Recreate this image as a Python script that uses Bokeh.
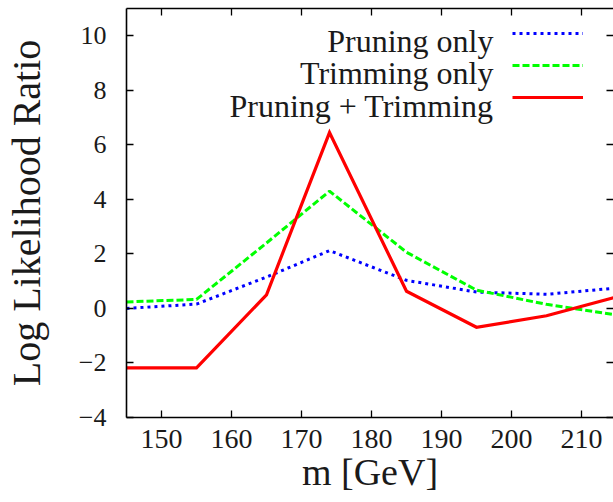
from bokeh.plotting import figure
from bokeh.models import (Range1d, FixedTicker, LinearAxis, Legend, LegendItem, Label,
                          CustomLabelingPolicy)
from bokeh.embed import file_html
from bokeh.resources import INLINE

# ---- data ----
mass = [145, 155, 165, 174, 185, 195, 205, 215]
pruning_only = [0.00, 0.16, 1.15, 2.12, 1.03, 0.60, 0.52, 0.75]
trimming_only = [0.24, 0.33, 2.40, 4.30, 2.06, 0.67, 0.15, -0.24]
pruning_trimming = [-2.18, -2.18, 0.50, 6.45, 0.63, -0.69, -0.27, 0.42]

x_ticks = [150, 160, 170, 180, 190, 200, 210]
y_ticks = [-4, -2, 0, 2, 4, 6, 8, 10]
series_names = ["Pruning only", "Trimming only", "Pruning + Trimming"]
x_label = "m [GeV]"
y_label = "Log Likelihood Ratio"

# ---- layout ----
W, H = 613, 502
FL, FB, FT = 126, 85, 8
X0, X1 = 145, 214.57
Y0, Y1 = -4, 11
FONT = "Liberation Serif"
FH = H - FB - FT


def dx(cx):
    return X0 + (cx - FL) * (X1 - X0) / (W - FL)


def dy(cy):
    return Y0 + (H - FB - cy) * (Y1 - Y0) / FH


p = figure(width=W, height=H, x_range=Range1d(X0, X1), y_range=Range1d(Y0, Y1),
           output_backend="svg", toolbar_location=None,
           min_border_left=FL, min_border_right=0, min_border_top=FT,
           min_border_bottom=FB)
p.outline_line_color = None
p.grid.visible = False
p.background_fill_color = "white"
p.border_fill_color = "white"

r1 = p.line(mass, pruning_only, line_color="#0000ff", line_width=3, line_dash="3 4")
r2 = p.line(mass, trimming_only, line_color="#00ff00", line_width=3, line_dash="7 3")
r3 = p.line(mass, pruning_trimming, line_color="#ff0000", line_width=3.2, line_join="miter")


def style_axis(ax, font_size):
    ax.major_tick_in = 7
    ax.major_tick_out = 0
    ax.minor_tick_line_color = None
    ax.axis_line_width = 1.6
    ax.axis_line_color = "black"
    ax.major_tick_line_color = "black"
    ax.major_tick_line_width = 1.3
    ax.major_label_text_font = FONT
    ax.major_label_text_font_size = font_size
    ax.major_label_text_color = "#1a1a1a"


xa = p.xaxis[0]
xa.ticker = FixedTicker(ticks=x_ticks)
style_axis(xa, "28px")
xa.major_label_standoff = 12
xa.axis_label = x_label
xa.axis_label_text_font = FONT
xa.axis_label_text_font_size = "38px"
xa.axis_label_text_font_style = "normal"
xa.axis_label_text_color = "#1a1a1a"
xa.axis_label_standoff = 0

ya = p.yaxis[0]
ya.ticker = FixedTicker(ticks=y_ticks)
style_axis(ya, "26px")
ya.major_label_standoff = 20
ya.major_label_overrides = {t: (str(t).replace("-", "\u2212")) for t in y_ticks}
ya.axis_label = y_label
ya.axis_label_text_font = FONT
ya.axis_label_text_font_size = "40px"
ya.axis_label_text_font_style = "normal"
ya.axis_label_text_color = "#1a1a1a"
ya.axis_label_standoff = 27

no_labels = "return new Set()"

top = LinearAxis(ticker=FixedTicker(ticks=x_ticks))
style_axis(top, "10px")
top.major_label_standoff = 0
top.major_label_policy = CustomLabelingPolicy(code=no_labels)
top.major_label_text_color = None
p.add_layout(top, "above")

right = LinearAxis(ticker=FixedTicker(ticks=y_ticks))
style_axis(right, "10px")
right.major_label_standoff = 0
right.major_label_policy = CustomLabelingPolicy(code=no_labels)
right.major_label_text_color = None
right.axis_line_color = None
p.add_layout(right, "right")

# legend samples (glyph to the right of the text, as in the reference)
legend = Legend(items=[LegendItem(label="", renderers=[r]) for r in (r1, r2, r3)],
                location=(386, FH - 9.3 - 96), glyph_width=71, glyph_height=32,
                spacing=0, padding=0, margin=0, label_standoff=0, label_width=0,
                label_height=0, label_text_font_size="10px", label_text_color=None,
                border_line_color=None, background_fill_alpha=0)
p.add_layout(legend)

for name, base in zip(series_names, [40.7, 72.7, 105.0]):
    p.add_layout(Label(x=dx(493), y=dy(base), text=name, text_align="right",
                       text_baseline="alphabetic", text_font=FONT,
                       text_font_size="32px", text_color="#1a1a1a"))

open("out.html", "w").write(file_html(p, INLINE))
